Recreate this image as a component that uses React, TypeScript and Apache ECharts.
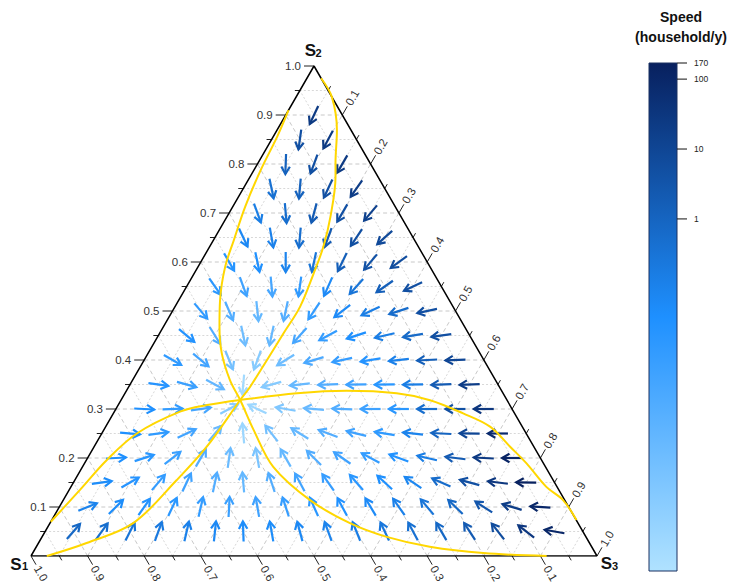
import React, { useEffect, useRef } from "react";
import * as echarts from "echarts";

const SQ = Math.sqrt(3) / 2;
const LATTICE_STEP = 0.05;

// Arrow rows: row k (k = 1..18) sits at S2 = 0.05k; arrow i (left to right) at S3 = 0.05i.
// Angles in degrees (screen, counter-clockwise from +x).
const arrowAngleRows: number[][] = [
  [49, 54, 63, 70, 77, 84, 92, 100, 105, 110, 112, 115, 118, 120, 123, 128, 142, 170],
  [22, 45, 55, 65, 77, 87, 100, 108, 114, 118, 121, 125, 130, 136, 147, 163, 176],
  [8, 30, 50, 65, 78, 95, 108, 118, 125, 131, 137, 146, 156, 165, 173, 179],
  [3, 18, 38, 60, 82, 100, 120, 135, 145, 152, 160, 167, 173, 177, 180],
  [-5, 8, 25, 50, 95, 128, 148, 160, 166, 171, 174, 177, 179, 180],
  [-3, 2, 8, 28, 155, 170, 175, 178, 180, 180, 180, 180, 180],
  [-8, -15, -28, -95, 195, 186, 182, 181, 181, 181, 182, 182],
  [-30, -40, -68, -110, -148, -163, -168, -171, -174, -177, -178],
  [-40, -58, -78, -102, -132, -152, -162, -167, -171, -172],
  [-50, -67, -84, -102, -124, -142, -155, -162, -168],
  [-55, -70, -85, -98, -114, -132, -145, -155],
  [-60, -78, -90, -102, -116, -130, -144],
  [-65, -80, -95, -110, -124, -138],
  [-70, -85, -105, -120, -130],
  [-78, -95, -115, -125],
  [-92, -110, -120],
  [-98, -118],
  [-115],
];

// Speed (household/y) of each arrow, same layout.
const arrowSpeedRows: number[][] = [
  [0.8, 0.5, 0.3, 0.2, 0.12, 0.07, 0.05, 0.05, 0.07, 0.1, 0.15, 0.25, 0.4, 0.8, 2, 6, 30, 100],
  [0.1, 0.05, 0.03, 0.02, 0.012, 0.008, 0.006, 0.01, 0.02, 0.035, 0.06, 0.12, 0.3, 0.8, 3, 20, 100],
  [0.05, 0.025, 0.012, 0.006, 0.002, 0.0007, 0.002, 0.005, 0.01, 0.02, 0.04, 0.08, 0.6, 5, 30, 150],
  [0.04, 0.02, 0.008, 0.002, 0.0005, 0.0002, 0.0007, 0.002, 0.006, 0.012, 0.03, 0.15, 2, 25, 120],
  [0.04, 0.015, 0.005, 0.0006, 0.00003, 0.0003, 0.0007, 0.002, 0.006, 0.015, 0.1, 1, 10, 80],
  [0.04, 0.012, 0.004, 0.0001, 0.00003, 0.00015, 0.0006, 0.002, 0.006, 0.02, 0.5, 5, 30],
  [0.025, 0.008, 0.0008, 0.00002, 0.0001, 0.0006, 0.002, 0.006, 0.02, 0.15, 2, 20],
  [0.015, 0.005, 0.0003, 0.0001, 0.0004, 0.003, 0.01, 0.025, 0.12, 1.5, 10],
  [0.03, 0.002, 0.0004, 0.0007, 0.004, 0.012, 0.04, 0.15, 0.7, 5],
  [0.015, 0.002, 0.0007, 0.002, 0.012, 0.06, 0.15, 0.6, 5],
  [0.02, 0.006, 0.004, 0.015, 0.06, 0.3, 1.5, 5],
  [0.025, 0.04, 0.1, 0.3, 1.5, 4, 6],
  [0.07, 0.12, 0.5, 2, 5, 8],
  [0.15, 0.5, 2, 5, 15],
  [0.4, 1.2, 5, 20],
  [1.2, 5, 25],
  [5, 25],
  [25],
];

// Nullclines as [S3, S2] pairs
const nullclineS1: number[][] = [
  [0, 0.91], [0.007, 0.856], [0.012, 0.788], [0.022, 0.713], [0.036, 0.645], [0.048, 0.59],
  [0.073, 0.522], [0.099, 0.468], [0.13, 0.414], [0.172, 0.359], [0.2104, 0.3184], [0.265, 0.257],
  [0.337, 0.182], [0.436, 0.114], [0.53, 0.067], [0.609, 0.039], [0.695, 0.019], [0.796, 0.006], [0.911, 0],
];
const nullclineS2: number[][] = [
  [0, 0.07], [0.019, 0.135], [0.036, 0.196], [0.062, 0.25], [0.116, 0.2945], [0.157, 0.308],
  [0.2104, 0.3184], [0.304, 0.332], [0.389, 0.337], [0.48, 0.332], [0.546, 0.318], [0.618, 0.291],
  [0.679, 0.264], [0.735, 0.223], [0.781, 0.189], [0.84, 0.141], [0.883, 0.114], [0.927, 0.0735],
];
const nullclineS3: number[][] = [
  [0.025, 0.975], [0.063, 0.937], [0.106, 0.869], [0.137, 0.802], [0.151, 0.774], [0.183, 0.692],
  [0.201, 0.631], [0.211, 0.577], [0.221, 0.509], [0.219, 0.455], [0.217, 0.4], [0.2145, 0.3455],
  [0.2104, 0.3184], [0.199, 0.223], [0.18, 0.155], [0.147, 0.067], [0.085, 0.0265], [0.028, 0],
];

const majorTicks = [0.1, 0.2, 0.3, 0.4, 0.5, 0.6, 0.7, 0.8, 0.9, 1.0];
const minorTicks = [0.05, 0.15, 0.25, 0.35, 0.45, 0.55, 0.65, 0.75, 0.85, 0.95];
const gridLevels = [0.05, 0.1, 0.15, 0.2, 0.25, 0.3, 0.35, 0.4, 0.45, 0.5, 0.55, 0.6, 0.65, 0.7, 0.75, 0.8, 0.85, 0.9, 0.95];
const colorbarTicks = [1, 10, 100, 170];
const speedMin = 9.2e-6;
const speedMax = 170;
const rampColors = ["#B0E2FF", "#1E90FF", "#08205E"];
const vertexNames = ["1", "2", "3"];

const FONT = "'Liberation Sans', Arial, Helvetica, sans-serif";

const toXY = (s3: number, s2: number) => [s3 + s2 * 0.5, s2 * SQ];

export default function App() {
  const ref = useRef<HTMLDivElement>(null);

  useEffect(() => {
    if (!ref.current) return;
    const chart = echarts.init(ref.current, undefined, { renderer: "svg" });

    // grid lines: [x1, y1, x2, y2, major]
    const gridData: number[][] = [];
    gridLevels.forEach((v) => {
      const major = Math.round(v * 20) % 2 === 0 ? 1 : 0;
      const a = toXY(0, v), b = toXY(1 - v, v);
      gridData.push([a[0], a[1], b[0], b[1], major]);
      const c = toXY(1 - v, 0), d = toXY(0, 1 - v);
      gridData.push([c[0], c[1], d[0], d[1], major]);
      const e = toXY(v, 0), f = toXY(v, 1 - v);
      gridData.push([e[0], e[1], f[0], f[1], major]);
    });

    // ticks: [X, Y, axis, value, major]
    const tickData: number[][] = [];
    [...majorTicks.map((v) => [v, 1]), ...minorTicks.map((v) => [v, 0])].forEach(([v, m]) => {
      const p1 = toXY(1 - v, 0); // S1 on bottom edge
      tickData.push([p1[0], p1[1], 0, v, m]);
      const p2 = toXY(0, v); // S2 on left edge
      tickData.push([p2[0], p2[1], 1, v, m]);
      const p3 = toXY(v, 1 - v); // S3 on right edge
      tickData.push([p3[0], p3[1], 2, v, m]);
    });

    const arrowData: number[][] = [];
    arrowAngleRows.forEach((row, r) => {
      const s2 = (r + 1) * LATTICE_STEP;
      row.forEach((ang, i) => {
        const s3 = (i + 1) * LATTICE_STEP;
        const p = toXY(s3, s2);
        arrowData.push([p[0], p[1], ang, Math.log10(arrowSpeedRows[r][i])]);
      });
    });

    const vertexData = [
      [...toXY(0, 0), 0],
      [...toXY(0, 1), 1],
      [...toXY(1, 0), 2],
    ];

    const curve = (pts: number[][]) => ({
      type: "line",
      data: pts.map(([s3, s2]) => toXY(s3, s2)),
      smooth: 0.35,
      symbol: "none",
      silent: true,
      lineStyle: { color: "#FFD700", width: 2 },
      z: 5,
    });

    const tickDirs = [
      [0.5, SQ],
      [-1, 0],
      [0.5, -SQ],
    ];

    const option: any = {
      animation: false,
      textStyle: { fontFamily: FONT },
      grid: [
        { left: 31, top: 66, width: 566, height: 490 },
        { left: 649, top: 63, width: 28, height: 508 },
      ],
      xAxis: [
        { type: "value", min: 0, max: 1, show: false, gridIndex: 0 },
        { type: "value", min: 0, max: 1, show: false, gridIndex: 1 },
      ],
      yAxis: [
        { type: "value", min: 0, max: SQ, show: false, gridIndex: 0 },
        { type: "log", logBase: 10, min: speedMin, max: speedMax, show: false, gridIndex: 1 },
      ],
      visualMap: {
        type: "continuous",
        show: false,
        seriesIndex: 3,
        dimension: 3,
        min: Math.log10(speedMin),
        max: Math.log10(speedMax),
        inRange: { color: rampColors },
      },
      graphic: [
        {
          type: "text",
          x: 681,
          y: 17,
          style: { text: "Speed", font: `bold 14px ${FONT}`, fill: "#111", align: "center", verticalAlign: "middle" },
        },
        {
          type: "text",
          x: 681,
          y: 37,
          style: { text: "(household/y)", font: `bold 14px ${FONT}`, fill: "#111", align: "center", verticalAlign: "middle" },
        },
      ],
      series: [
        {
          type: "custom",
          silent: true,
          data: gridData,
          z: 1,
          renderItem: (params: any, api: any) => {
            const a = api.coord([api.value(0), api.value(1)]);
            const b = api.coord([api.value(2), api.value(3)]);
            const major = api.value(4) === 1;
            return {
              type: "line",
              shape: { x1: a[0], y1: a[1], x2: b[0], y2: b[1] },
              style: {
                stroke: major ? "#c8c8c8" : "#d8d8d8",
                lineWidth: 1,
                lineDash: major ? [4, 3] : [2, 2],
              },
            };
          },
        },
        {
          type: "line",
          data: [toXY(0, 0), toXY(1, 0), toXY(0, 1), toXY(0, 0)],
          symbol: "none",
          silent: true,
          lineStyle: { color: "#000", width: 1.5 },
          z: 3,
        },
        {
          type: "custom",
          silent: true,
          data: tickData,
          z: 3,
          renderItem: (params: any, api: any) => {
            const p = api.coord([api.value(0), api.value(1)]);
            const ax = api.value(2);
            const v = api.value(3);
            const major = api.value(4) === 1;
            const d = tickDirs[ax];
            const len = major ? 10 : 5;
            const e = [p[0] + d[0] * len, p[1] + d[1] * len];
            const children: any[] = [
              {
                type: "line",
                shape: { x1: p[0], y1: p[1], x2: e[0], y2: e[1] },
                style: { stroke: "#222", lineWidth: 1 },
              },
            ];
            if (major) {
              const txt = v.toFixed(1);
              if (ax === 1) {
                children.push({
                  type: "text",
                  x: e[0] - 3,
                  y: e[1],
                  style: { text: txt, fontSize: 11.5, fontFamily: FONT, fill: "#333", align: "right", verticalAlign: "middle" },
                });
              } else if (ax === 0) {
                children.push({
                  type: "text",
                  x: e[0] + d[0] * 2,
                  y: e[1] + d[1] * 2,
                  rotation: -Math.PI / 3,
                  style: { text: txt, fontSize: 11.5, fontFamily: FONT, fill: "#333", align: "left", verticalAlign: "middle" },
                });
              } else {
                children.push({
                  type: "text",
                  x: e[0] + d[0] * 2,
                  y: e[1] + d[1] * 2,
                  rotation: Math.PI / 3,
                  style: { text: txt, fontSize: 11.5, fontFamily: FONT, fill: "#333", align: "left", verticalAlign: "middle" },
                });
              }
            }
            return { type: "group", children };
          },
        },
        {
          type: "custom",
          silent: true,
          data: arrowData,
          z: 4,
          renderItem: (params: any, api: any) => {
            const p = api.coord([api.value(0), api.value(1)]);
            const a = (api.value(2) * Math.PI) / 180;
            const dx = Math.cos(a), dy = -Math.sin(a);
            const half = 10;
            const tip = [p[0] + dx * half, p[1] + dy * half];
            const tail = [p[0] - dx * half, p[1] - dy * half];
            const hl = 8.5;
            const h1a = a + Math.PI + Math.PI / 6;
            const h2a = a + Math.PI - Math.PI / 6;
            const h1 = [tip[0] + hl * Math.cos(h1a), tip[1] - hl * Math.sin(h1a)];
            const h2 = [tip[0] + hl * Math.cos(h2a), tip[1] - hl * Math.sin(h2a)];
            const color = api.visual("color");
            return {
              type: "group",
              children: [
                {
                  type: "line",
                  shape: { x1: tail[0], y1: tail[1], x2: tip[0], y2: tip[1] },
                  style: { stroke: color, lineWidth: 2.2 },
                },
                {
                  type: "polyline",
                  shape: { points: [h1, tip, h2] },
                  style: { stroke: color, fill: null, lineWidth: 2.2 },
                },
              ],
            };
          },
        },
        curve(nullclineS1),
        curve(nullclineS2),
        curve(nullclineS3),
        {
          type: "custom",
          silent: true,
          data: vertexData,
          z: 6,
          renderItem: (params: any, api: any) => {
            const p = api.coord([api.value(0), api.value(1)]);
            const id = api.value(2);
            const offs = [
              [-15, 8, -9, 10],
              [-3.5, -16, 1.5, -13.5],
              [9.5, 7, 15, 10],
            ][id];
            return {
              type: "group",
              children: [
                {
                  type: "text",
                  x: p[0] + offs[0],
                  y: p[1] + offs[1],
                  style: { text: "S", font: `bold 17px ${FONT}`, fill: "#111", align: "center", verticalAlign: "middle" },
                },
                {
                  type: "text",
                  x: p[0] + offs[2],
                  y: p[1] + offs[3],
                  style: { text: vertexNames[id], font: `bold 11px ${FONT}`, fill: "#111", align: "left", verticalAlign: "middle" },
                },
              ],
            };
          },
        },
        {
          type: "custom",
          silent: true,
          xAxisIndex: 1,
          yAxisIndex: 1,
          data: [[0, speedMin, 1, speedMax]],
          renderItem: (params: any, api: any) => {
            const a = api.coord([api.value(0), api.value(1)]);
            const b = api.coord([api.value(2), api.value(3)]);
            return {
              type: "rect",
              shape: { x: a[0], y: b[1], width: b[0] - a[0], height: a[1] - b[1] },
              style: {
                fill: new echarts.graphic.LinearGradient(0, 0, 0, 1, [
                  { offset: 0, color: rampColors[2] },
                  { offset: 0.5, color: rampColors[1] },
                  { offset: 1, color: rampColors[0] },
                ]),
                stroke: "#1a3060",
                lineWidth: 1,
              },
            };
          },
        },
        {
          type: "custom",
          silent: true,
          xAxisIndex: 1,
          yAxisIndex: 1,
          data: colorbarTicks.map((v) => [1, v]),
          renderItem: (params: any, api: any) => {
            const p = api.coord([api.value(0), api.value(1)]);
            return {
              type: "group",
              children: [
                {
                  type: "line",
                  shape: { x1: p[0], y1: p[1], x2: p[0] + 10, y2: p[1] },
                  style: { stroke: "#111", lineWidth: 1 },
                },
                {
                  type: "text",
                  x: p[0] + 17,
                  y: p[1],
                  style: { text: String(api.value(1)), fontSize: 8.5, fontFamily: FONT, fill: "#222", align: "left", verticalAlign: "middle" },
                },
              ],
            };
          },
        },
      ],
    };

    chart.setOption(option);
    return () => chart.dispose();
  }, []);

  return <div ref={ref} style={{ position: "absolute", left: 0, top: 0, width: 737, height: 587, background: "#fff" }} />;
}
